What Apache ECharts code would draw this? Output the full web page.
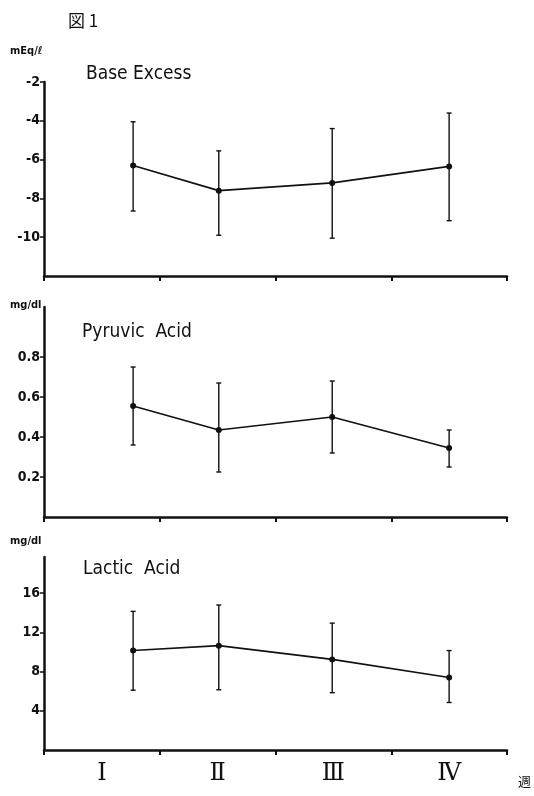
<!DOCTYPE html>
<html>
<head>
<meta charset="utf-8">
<script src="https://cdn.jsdelivr.net/npm/echarts@6/dist/echarts.min.js"></script>
<style>
  html, body { margin: 0; padding: 0; background: #fff; }
  #chart { width: 534px; height: 796px; }
</style>
</head>
<body>
<div id="chart"></div>
<script>
// periods (weeks) and where each mean was plotted along the band axis
const periods = ["Ⅰ", "Ⅱ", "Ⅲ", "Ⅳ"];
const periodPos = [0.77, 1.51, 2.49, 3.5];

// Base Excess (mEq/l)
const baseMean = [-6.3, -7.6, -7.2, -6.35];
const baseLow = [-8.65, -9.9, -10.05, -9.15];
const baseHigh = [-4.05, -5.55, -4.4, -3.6];
const baseTicks = [-10, -8, -6, -4, -2];

// Pyruvic Acid (mg/dl)
const pyrMean = [0.555, 0.435, 0.5, 0.345];
const pyrLow = [0.36, 0.225, 0.32, 0.25];
const pyrHigh = [0.75, 0.67, 0.68, 0.435];
const pyrTicks = [0.2, 0.4, 0.6, 0.8];

// Lactic Acid (mg/dl)
const lacMean = [10.15, 10.65, 9.25, 7.4];
const lacLow = [6.1, 6.15, 5.85, 4.85];
const lacHigh = [14.15, 14.8, 12.95, 10.15];
const lacTicks = [4, 8, 12, 16];

const chart = echarts.init(document.getElementById("chart"));

const ink = "#111";
const handFont = "'DejaVu Sans Condensed', 'DejaVu Sans', sans-serif";

function errorBar(params, api) {
  const x = api.value(0);
  const lo = api.coord([x, api.value(1)]);
  const hi = api.coord([x, api.value(2)]);
  const w = 2.5;
  const st = { stroke: ink, lineWidth: 1.4 };
  return {
    type: "group",
    children: [
      { type: "line", shape: { x1: lo[0], y1: lo[1], x2: hi[0], y2: hi[1] }, style: st },
      { type: "line", shape: { x1: lo[0] - w, y1: lo[1], x2: lo[0] + w, y2: lo[1] }, style: st },
      { type: "line", shape: { x1: hi[0] - w, y1: hi[1], x2: hi[0] + w, y2: hi[1] }, style: st },
    ],
  };
}

const grids = [
  { left: 44, top: 82, width: 463, height: 194 },
  { left: 44, top: 307, width: 463, height: 210 },
  { left: 44, top: 557, width: 463, height: 193 },
];

const ranges = [
  { min: -12, max: -2, ticks: baseTicks },
  { min: 0, max: 1.05, ticks: pyrTicks },
  { min: 0, max: 19.7, ticks: lacTicks },
];

const xAxes = [];
const yAxes = [];
grids.forEach((g, i) => {
  // visible band axis (ticks between periods, labels only on last panel)
  xAxes.push({
    type: "category",
    gridIndex: i,
    data: periods,
    boundaryGap: true,
    axisLine: { lineStyle: { color: ink, width: 2.5 } },
    axisTick: { show: true, alignWithLabel: false, length: 5, lineStyle: { color: ink, width: 2 } },
    axisLabel: {
      show: i === 2,
      color: ink,
      fontFamily: "'DejaVu Serif', 'Liberation Serif', serif",
      fontSize: 24,
      margin: 12,
    },
    splitLine: { show: false },
  });
  // hidden numeric axis to place the points
  xAxes.push({ type: "value", gridIndex: i, min: 0, max: 4, show: false });
  yAxes.push({
    type: "value",
    gridIndex: i,
    min: ranges[i].min,
    max: ranges[i].max,
    axisLine: { show: true, lineStyle: { color: ink, width: 2.5 } },
    axisTick: { show: true, length: 4, customValues: ranges[i].ticks, lineStyle: { color: ink, width: 1.5 } },
    axisLabel: {
      customValues: ranges[i].ticks,
      color: ink,
      fontFamily: handFont,
      fontSize: 14,
      fontWeight: "bold",
      margin: 4,
    },
    splitLine: { show: false },
  });
});

const sets = [
  [baseMean, baseLow, baseHigh],
  [pyrMean, pyrLow, pyrHigh],
  [lacMean, lacLow, lacHigh],
];

const series = [];
sets.forEach(([mean, low, high], i) => {
  series.push({
    type: "line",
    xAxisIndex: i * 2 + 1,
    yAxisIndex: i,
    data: mean.map((v, k) => [periodPos[k], v]),
    symbol: "circle",
    symbolSize: 6,
    lineStyle: { color: ink, width: 1.6 },
    itemStyle: { color: ink },
    z: 3,
  });
  series.push({
    type: "custom",
    xAxisIndex: i * 2 + 1,
    yAxisIndex: i,
    renderItem: errorBar,
    encode: { x: 0, y: [1, 2] },
    data: low.map((v, k) => [periodPos[k], v, high[k]]),
    z: 2,
  });
});

const txt = (text, left, top, size, extra) => ({
  text,
  left,
  top,
  padding: 0,
  textStyle: Object.assign({ color: ink, fontSize: size, fontFamily: handFont, fontWeight: "normal" }, extra || {}),
});

chart.setOption({
  backgroundColor: "#fff",
  animation: false,
  title: [
    txt("図 1", 68, 12, 17, { fontFamily: "'Noto Sans CJK JP', serif" }),
    txt("mEq/ℓ", 10, 46, 11, { fontWeight: "bold" }),
    txt("Base Excess", 86, 65, 19),
    txt("mg/dl", 10, 300, 11, { fontWeight: "bold" }),
    txt("Pyruvic  Acid", 82, 323, 19),
    txt("mg/dl", 10, 536, 11, { fontWeight: "bold" }),
    txt("Lactic  Acid", 83, 560, 19),
    txt("週", 518, 775, 13, { fontFamily: "'Noto Sans CJK JP', sans-serif" }),
  ],
  grid: grids,
  xAxis: xAxes,
  yAxis: yAxes,
  series,
});
</script>
</body>
</html>
